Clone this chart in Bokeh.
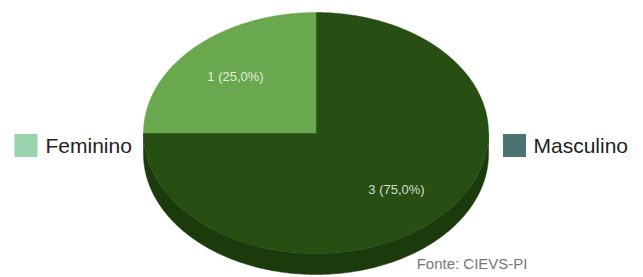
import numpy as np
from bokeh.plotting import figure
from bokeh.models import Range1d
from bokeh.core.properties import value
from bokeh.embed import file_html
from bokeh.resources import INLINE

# ---- data ----
categories = ["Feminino", "Masculino"]
counts = [1, 3]
slice_colors = ["#6aa84f", "#274e13"]
side_colors = ["#3f6a2c", "#1c3b0d"]
legend_colors = ["#99d3ae", "#4a7371"]
source_note = "Fonte: CIEVS-PI"

# ---- geometry (screen-pixel coordinates, y downward) ----
W, H = 643, 277
cx, cy = 315.5, 132.5
rx, ry = 172.5, 120.5
depth = 21
label_r = 0.66

p = figure(width=W, height=H, output_backend="svg", toolbar_location=None,
           x_range=Range1d(0, W), y_range=Range1d(H, 0),
           min_border=0, background_fill_color="white", border_fill_color="white")
p.axis.visible = False
p.grid.visible = False
p.outline_line_color = None

total = sum(counts)
# clockwise from 12 o'clock, last category first (Feminino ends at top, on the left)
order = list(range(len(categories)))[::-1]
angles = {}
acc = 0.0
for i in order:
    a0 = acc / total * 360.0
    acc += counts[i]
    a1 = acc / total * 360.0
    angles[i] = (a0, a1)

def pt(phi_deg, dy=0.0, r=1.0):
    ph = np.radians(phi_deg)
    return cx + rx * r * np.sin(ph), cy - ry * r * np.cos(ph) + dy

# sides (visible front half: 90..270 degrees)
for i, (a0, a1) in angles.items():
    s0, s1 = max(a0, 90.0), min(a1, 270.0)
    if s1 <= s0:
        continue
    phis = np.linspace(s0, s1, 200)
    xt, yt = pt(phis)
    xb, yb = pt(phis[::-1], dy=depth)
    p.patch(np.concatenate([xt, xb]), np.concatenate([yt, yb]),
            fill_color=side_colors[i], line_color=side_colors[i], line_width=0.5)

# top faces
for i, (a0, a1) in angles.items():
    phis = np.linspace(a0, a1, 300)
    xt, yt = pt(phis)
    xs = np.concatenate([[cx], xt])
    ys = np.concatenate([[cy], yt])
    p.patch(xs, ys, fill_color=slice_colors[i], line_color=slice_colors[i], line_width=0.5)

# slice labels
lx, ly, lt = [], [], []
for i, (a0, a1) in angles.items():
    x, y = pt((a0 + a1) / 2.0, r=label_r)
    lx.append(x); ly.append(y)
    lt.append(f"{counts[i]} ({counts[i] / total * 100:.1f}%)".replace(".", ","))
p.text(x=lx, y=ly, text=lt, text_align="center", text_baseline="middle",
       text_font=value("Liberation Sans"), text_font_size="13px",
       text_color="white", text_alpha=0.82)

# legend
leg_sq_x = [25.5, 514]
leg_txt_x = [45, 533]
leg_y = 145
p.rect(x=leg_sq_x, y=[leg_y] * 2, width=23, height=23,
       fill_color=legend_colors, line_color=None)
p.text(x=leg_txt_x, y=[leg_y] * 2, text=categories, text_align="left",
       text_baseline="middle", text_font=value("Liberation Sans"),
       text_font_size="21px", text_color="#222222")

# source note
p.text(x=[527], y=[271], text=[source_note], text_align="right",
       text_baseline="bottom", text_font=value("Liberation Sans"),
       text_font_size="15px", text_color="#777777")

open("out.html", "w").write(file_html(p, INLINE))
